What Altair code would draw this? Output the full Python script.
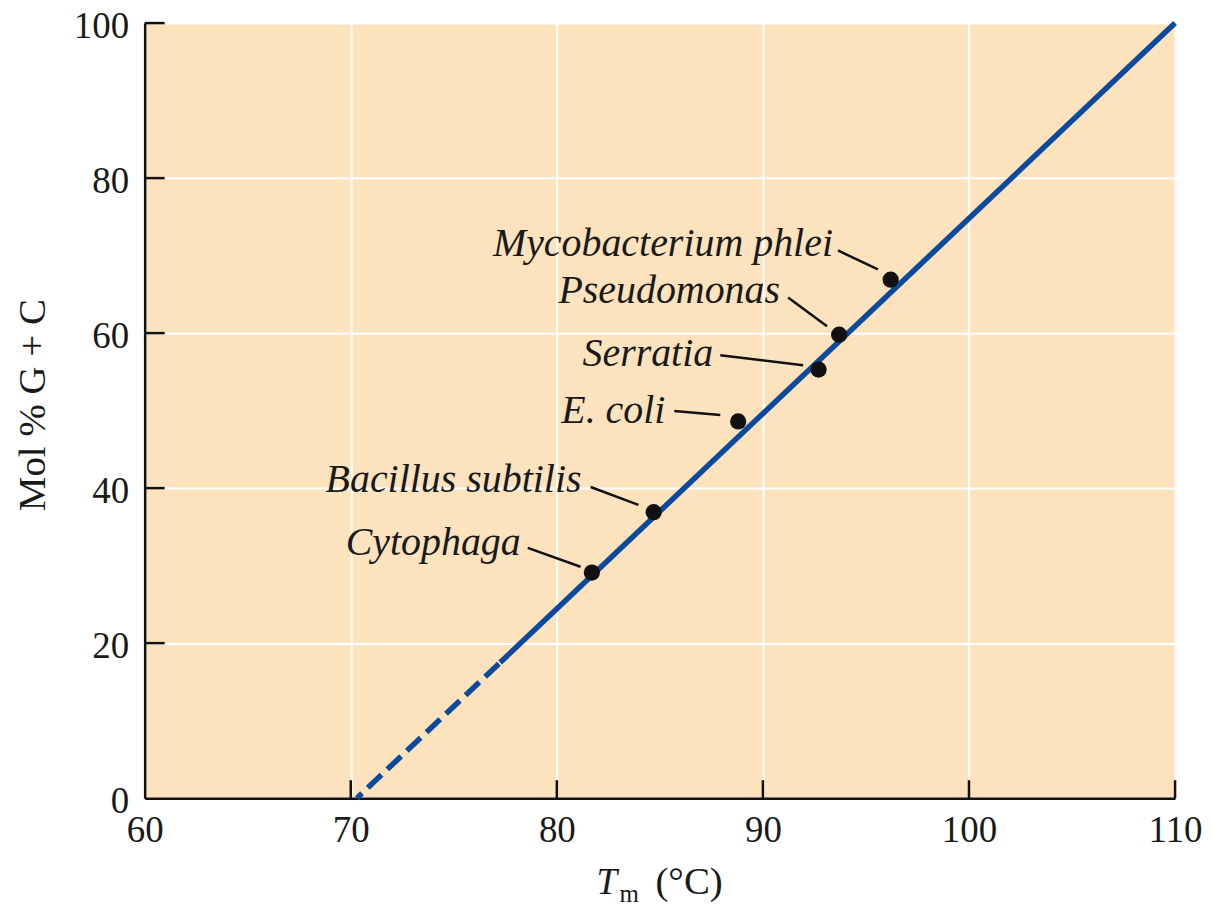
import altair as alt
import pandas as pd

# ---- data ----
organisms = ["Cytophaga", "Bacillus subtilis", "E. coli", "Serratia",
             "Pseudomonas", "Mycobacterium phlei"]
tm_values = [81.7, 84.7, 88.8, 92.7, 93.7, 96.2]
gc_values = [29.1, 36.9, 48.6, 55.3, 59.8, 66.9]

# annotation anchors (data units)
label_tm = [78.25, 81.2, 85.27, 87.59, 90.83, 93.4]
label_gc = [31.4, 39.5, 48.4, 55.8, 63.9, 70.0]
leader_tm_start = [78.59, 81.64, 85.70, 87.93, 91.22, 93.64]
leader_gc_start = [32.3, 40.15, 49.94, 57.14, 64.61, 70.66]
leader_tm_end = [81.15, 83.96, 87.93, 91.95, 93.11, 95.58]
leader_gc_end = [29.86, 37.84, 49.42, 55.86, 60.88, 68.21]

# fitted line: dashed extrapolation then solid
fit_tm = [70.3, 77.25, 110.0]
fit_gc = [0.0, 17.5, 100.0]

x_ticks = [60, 70, 80, 90, 100, 110]
y_ticks = [0, 20, 40, 60, 80, 100]

x_title_main = "T"
x_title_sub = "m"
x_title_rest = "(°C)"
y_title = "Mol % G + C"

# ---- layout ----
W, H = 1033, 777
FONT = "Liberation Serif"
TXT = "#1a1a1a"
BLUE = "#0b4a9d"

xs = alt.Scale(domain=[60, 110], nice=False, zero=False)
ys = alt.Scale(domain=[0, 100], nice=False, zero=False)
xaxis = alt.Axis(values=x_ticks, grid=True, ticks=False, title=None,
                 labelPadding=14, labelFlush=False, format="d")
yaxis = alt.Axis(values=y_ticks, grid=True, ticks=False, title=None,
                 labelPadding=16, labelFlush=False, labelOffset=3, format="d")


def X(field):
    return alt.X(f"{field}:Q", scale=xs, axis=xaxis)


def Y(field):
    return alt.Y(f"{field}:Q", scale=ys, axis=yaxis)


pts = pd.DataFrame({"organism": organisms, "tm": tm_values, "gc": gc_values})
labels = pd.DataFrame({"organism": organisms, "tm": label_tm, "gc": label_gc})
leaders = pd.DataFrame({"tm": leader_tm_start, "gc": leader_gc_start,
                        "tm2": leader_tm_end, "gc2": leader_gc_end})
dashed = pd.DataFrame({"tm": fit_tm[:2], "gc": fit_gc[:2]})
solid = pd.DataFrame({"tm": fit_tm[1:], "gc": fit_gc[1:]})
xt = pd.DataFrame({"tm": x_ticks[1:]})
yt = pd.DataFrame({"gc": y_ticks[1:]})

dash_line = alt.Chart(dashed).mark_line(
    color=BLUE, strokeWidth=5.5, strokeDash=[19, 8], strokeDashOffset=12
).encode(x=X("tm"), y=Y("gc"))

solid_line = alt.Chart(solid).mark_line(
    color=BLUE, strokeWidth=5.5
).encode(x=X("tm"), y=Y("gc"))

leader_rules = alt.Chart(leaders).mark_rule(
    color="#111111", strokeWidth=2.5
).encode(x=X("tm"), y=Y("gc"), x2="tm2:Q", y2="gc2:Q")

points = alt.Chart(pts).mark_circle(
    size=265, color="#111111", opacity=1
).encode(x=X("tm"), y=Y("gc"))

label_text = alt.Chart(labels).mark_text(
    font=FONT, fontStyle="italic", fontSize=40, color=TXT,
    align="right", baseline="alphabetic"
).encode(x=X("tm"), y=Y("gc"), text="organism:N")

x_tick_marks = alt.Chart(xt).mark_rule(color="#111111", strokeWidth=2.5).encode(
    x=X("tm"), y=alt.value(H), y2=alt.value(H - 18))

y_tick_marks = alt.Chart(yt).mark_rule(color="#111111", strokeWidth=2.5).encode(
    y=Y("gc"), x=alt.value(0), x2=alt.value(20))

title_df = pd.DataFrame({"a": [x_title_main], "b": [x_title_sub],
                         "c": [x_title_rest], "d": [y_title]})

t_main = alt.Chart(title_df).mark_text(
    font=FONT, fontStyle="italic", fontSize=37, color=TXT,
    align="left", baseline="alphabetic"
).encode(x=alt.value(453), y=alt.value(873), text="a:N")

t_sub = alt.Chart(title_df).mark_text(
    font=FONT, fontSize=25, color=TXT, align="left", baseline="alphabetic"
).encode(x=alt.value(476), y=alt.value(881), text="b:N")

t_rest = alt.Chart(title_df).mark_text(
    font=FONT, fontSize=39, color=TXT, align="left", baseline="alphabetic"
).encode(x=alt.value(512), y=alt.value(873), text="c:N")

t_y = alt.Chart(title_df).mark_text(
    font=FONT, fontSize=39, color=TXT, angle=270,
    align="center", baseline="alphabetic"
).encode(x=alt.value(-100), y=alt.value(383), text="d:N")

chart = alt.layer(
    dash_line, solid_line, leader_rules, points, label_text,
    x_tick_marks, y_tick_marks, t_main, t_sub, t_rest, t_y
).properties(
    width=W, height=H,
    autosize=alt.AutoSizeParams(type="none"),
    padding={"left": 137, "top": 14, "right": 30, "bottom": 111},
    background="white",
).configure_view(
    fill="#fce3be", strokeWidth=0
).configure_axis(
    domainColor="#111111", domainWidth=2.5,
    gridColor="white", gridWidth=2, gridOpacity=1,
    labelFont=FONT, labelFontSize=37, labelColor=TXT,
)

chart.save("out.html", embed_options={"renderer": "svg", "actions": False})
